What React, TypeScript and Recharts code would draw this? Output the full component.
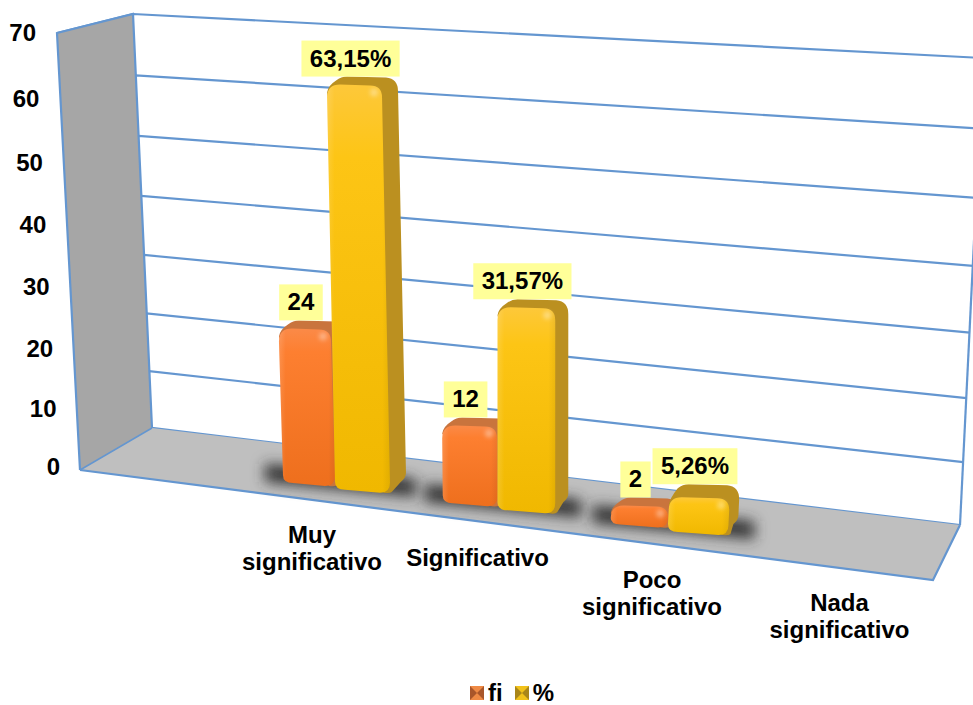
import React from 'react';
import { Bar, BarChart, CartesianGrid, Customized, LabelList, Legend, XAxis, YAxis } from 'recharts';

const categories = ['Muy significativo', 'Significativo', 'Poco significativo', 'Nada significativo'];
const fiValues = [24, 12, 2, null];
const pctValues = [63.15, 31.57, 5.26, null];
const valueTicks = [0, 10, 20, 30, 40, 50, 60, 70];

const data = categories.map((category, i) => ({ category, fi: fiValues[i], pct: pctValues[i] }));

const FONT = '"Liberation Sans", Arial, sans-serif';
const LINE = '#6496d0';
const MAX_VALUE = 70;
const PLOT_TOP = 52;
const PLOT_BOTTOM = 500;
const LEGEND_HEIGHT = 24;
const labelShift = [-23, -20, -16, -7];

// the chart is laid out flat, these bend it into the 3d view of the picture
const warpX = (x: number) => {
  const i = (x - 335) / 160;
  return 335 + 158.5 * i + 4 * i * i;
};
const baseAt = (cx: number) => 484 + 0.1256 * (cx - 309);
const curve = (y0: number, d: number, c: number, t: number) => y0 - (d * t + c * t * (t - 1));
const outerY = (t: number) => curve(470, 437, 18, t);
const innerY = (t: number) => curve(428, 414, 18, t);
const rightY = (t: number) => curve(525, 467, 32, t);
const outerX = (t: number) => 80 - 23 * t;
const innerX = (t: number) => 152 - 19 * t;
const rightX = (t: number) => 960 + 23 * t;

function barBox(props: any, inset: number) {
  const xl = warpX(props.x) + inset;
  const xr = warpX(props.x + props.width);
  const cx = (xl + xr) / 2;
  const base = baseAt(cx);
  const h = Math.max(props.height + 2, 20);
  const top = base - h;
  const lean = -(525 - cx) * 0.00012 * h;
  const side = 16 - (cx - 363) * 0.018;
  // short bars show more of their top face
  const depth = h > 25 && h < 40 ? 13 : 8;
  return { xl, xr, cx, base, top, lean, side, depth };
}

function makeBar(kind: 'fi' | 'pct') {
  const inset = kind === 'fi' ? 2 : 0;
  return function BarShape(props: any) {
    if (!props.height) return null;
    const { xl, xr, base, top, lean, side, depth } = barBox(props, inset);
    const tl = xl + lean;
    const tr = xr + lean;
    const back = top - depth;
    const silhouette = `M${tl} ${top + 8} Q${tl + 1} ${top + 1} ${tl + 9} ${back + 4} Q${tl + 14} ${back} ${tl + 20} ${back}
      L${tr + side - 12} ${back + 1} Q${tr + side} ${back + 2} ${tr + side} ${back + 15}
      L${xr + side} ${base - 18} Q${xr + side} ${base - 13} ${xr + side - 5} ${base - 9} L${xr + 2} ${base + 1} Q${xr} ${base + 3} ${xr - 6} ${base + 2} Z`;
    const front = `M${tl} ${top + 13} Q${tl} ${top} ${tl + 13} ${top} L${tr - 12} ${top + 1} Q${tr} ${top + 1} ${tr} ${top + 13}
      L${xr} ${base - 8} Q${xr} ${base + 2} ${xr - 10} ${base + 2} L${xl + 10} ${base - 1} Q${xl} ${base - 1} ${xl} ${base - 9} Z`;
    return (
      <g>
        <path d={silhouette} fill={kind === 'fi' ? '#c9743d' : '#bb9020'} />
        <path d={front} fill={`url(#${kind}Front)`} />
        <path d={front} fill="url(#barEdge)" />
        <ellipse cx={tr - 8} cy={top + 8} rx={4} ry={4} fill="#ffffff" opacity={0.35} filter="url(#softGlow)" />
      </g>
    );
  };
}

function FloorShadow(props: any) {
  if (!props.height) return null;
  const xl = warpX(props.x) - 16;
  const xr = warpX(props.x + props.width) + 26;
  const mid = baseAt((warpX(props.x) + warpX(props.x + props.width)) / 2);
  const y = (x: number) => mid + 0.1 * (x - (xl + xr) / 2);
  return (
    <polygon
      points={`${xl},${y(xl) - 16} ${xr},${y(xr) - 16} ${xr},${y(xr) + 2} ${xl},${y(xl) + 2}`}
      fill="#333333"
      filter="url(#floorBlur)"
    />
  );
}

function Walls() {
  return (
    <g>
      <polygon points="57,33 133,14 152,428 80,470" fill="#a6a6a6" />
      <polygon points="80,470 152,428 960,525 933,580" fill="#bfbfbf" />
      <polyline points="80,470 57,33 133,14 152,428" fill="none" stroke={LINE} strokeWidth={2.2} />
      <line x1={983} y1={58} x2={960} y2={525} stroke={LINE} strokeWidth={2.2} />
      <polyline points="80,470 933,580 960,525" fill="none" stroke={LINE} strokeWidth={2.2} />
      <line x1={80} y1={470} x2={152} y2={428} stroke={LINE} strokeWidth={1.5} />
    </g>
  );
}

function GridLine(props: any) {
  const t = (PLOT_BOTTOM - props.y1) / (PLOT_BOTTOM - PLOT_TOP);
  return (
    <polyline
      key={props.key}
      points={`${outerX(t)},${outerY(t)} ${innerX(t)},${innerY(t)} ${rightX(t)},${rightY(t)}`}
      fill="none"
      stroke={LINE}
      strokeWidth={2.2}
    />
  );
}

function ValueTick(props: any) {
  const t = props.payload.value / MAX_VALUE;
  const nudge = props.payload.value === 0 || props.payload.value === 70 ? 0 : 2;
  return (
    <text x={36 + (1 - t) * 24} y={outerY(t) + 8 - 3 * (1 - t) + nudge} textAnchor="end" fontFamily={FONT} fontWeight="bold" fontSize={24} fill="#000">
      {props.payload.value}
    </text>
  );
}

function CategoryTick(props: any) {
  const i = props.index;
  const words = props.payload.value.split(' ');
  const x = warpX(props.x) + labelShift[i];
  const y = 543 + i * 22.7;
  return (
    <text textAnchor="middle" fontFamily={FONT} fontWeight="bold" fontSize={24} fill="#000">
      {words.map((word: string, n: number) => (
        <tspan key={word} x={x} y={y + n * 27}>
          {word}
        </tspan>
      ))}
    </text>
  );
}

function makeLabel(format: (v: number) => string, inset: number) {
  return function BarLabel(props: any) {
    if (props.value == null) return null;
    const { cx, base, top, lean, depth } = barBox(props, inset);
    if (!base) return null;
    const text = format(props.value);
    let w = 17;
    for (const ch of text) w += ch === ',' ? 6.7 : ch === '%' ? 21.3 : 13.3;
    const mid = cx + lean - 4;
    const bottom = top - depth;
    return (
      <g>
        <rect x={mid - w / 2} y={bottom - 36} width={w} height={36} fill="#ffff99" />
        <text x={mid} y={bottom - 10} textAnchor="middle" fontFamily={FONT} fontWeight="bold" fontSize={24} fill="#000">
          {text}
        </text>
      </g>
    );
  };
}

function LegendIcon({ light, dark }: { light: string; dark: string }) {
  return (
    <svg width={14} height={14} style={{ display: 'block' }}>
      <rect width={14} height={14} fill={light} />
      <polygon points="0,0 7,7 0,14" fill={dark} />
      <polygon points="14,0 7,7 14,14" fill={dark} />
    </svg>
  );
}

function ChartLegend(props: any) {
  const items = (props.payload || []).filter((item: any) => item.type !== 'none');
  return (
    <div style={{ display: 'flex', alignItems: 'center', fontFamily: FONT, fontWeight: 'bold', fontSize: 24, lineHeight: '24px', color: '#000' }}>
      {items.map((item: any, i: number) => (
        <div key={item.value} style={{ display: 'flex', alignItems: 'center', marginRight: i === 0 ? 12 : 0 }}>
          <LegendIcon light={i === 0 ? '#ef8a45' : '#f2c21a'} dark={i === 0 ? '#a9562a' : '#a9861a'} />
          <span style={{ marginLeft: 4 }}>{item.value}</span>
        </div>
      ))}
    </div>
  );
}

export default function App() {
  return (
    <div style={{ position: 'absolute', left: 0, top: 0, width: 973, height: 705, overflow: 'hidden', background: '#fff' }}>
      <BarChart
        width={973}
        height={705}
        data={data}
        barSize={55}
        barGap={0}
        margin={{ top: PLOT_TOP, right: 78, bottom: 705 - PLOT_BOTTOM - 1 - LEGEND_HEIGHT, left: 254 }}
      >
        <defs>
          <linearGradient id="fiFront" x1="0" y1="0" x2="0" y2="1">
            <stop offset="0%" stopColor="#fb8a48" />
            <stop offset="15%" stopColor="#fd7f30" />
            <stop offset="100%" stopColor="#ee6f1d" />
          </linearGradient>
          <linearGradient id="pctFront" x1="0" y1="0" x2="0" y2="1">
            <stop offset="0%" stopColor="#fdc83a" />
            <stop offset="18%" stopColor="#fdc515" />
            <stop offset="100%" stopColor="#f0b800" />
          </linearGradient>
          <linearGradient id="barEdge" x1="0" y1="0" x2="1" y2="0">
            <stop offset="0%" stopColor="#fff" stopOpacity={0.14} />
            <stop offset="12%" stopColor="#fff" stopOpacity={0} />
            <stop offset="88%" stopColor="#000" stopOpacity={0} />
            <stop offset="100%" stopColor="#000" stopOpacity={0.06} />
          </linearGradient>
          <filter id="floorBlur" x="-30%" y="-150%" width="160%" height="400%">
            <feGaussianBlur stdDeviation="7" />
          </filter>
          <filter id="softGlow" x="-100%" y="-100%" width="300%" height="300%">
            <feGaussianBlur stdDeviation="2" />
          </filter>
        </defs>
        <Customized component={Walls} />
        <CartesianGrid vertical={false} horizontal={GridLine} />
        <XAxis dataKey="category" height={1} axisLine={false} tickLine={false} interval={0} tick={CategoryTick} />
        <XAxis xAxisId="floor" dataKey="category" hide />
        <YAxis domain={[0, MAX_VALUE]} ticks={valueTicks} width={1} axisLine={false} tickLine={false} tick={ValueTick} />
        <Legend
          content={ChartLegend}
          height={LEGEND_HEIGHT}
          itemSorter={null}
          wrapperStyle={{ position: 'absolute', left: 470, top: 681, width: 120, height: LEGEND_HEIGHT }}
        />
        <Bar xAxisId="floor" dataKey="fi" barSize={110} legendType="none" shape={FloorShadow} isAnimationActive={false} />
        <Bar dataKey="fi" name="fi" shape={makeBar('fi')} isAnimationActive={false}>
          <LabelList dataKey="fi" content={makeLabel((v) => String(v), 2)} />
        </Bar>
        <Bar dataKey="pct" name="%" shape={makeBar('pct')} isAnimationActive={false}>
          <LabelList dataKey="pct" content={makeLabel((v) => v.toFixed(2).replace('.', ',') + '%', 0)} />
        </Bar>
      </BarChart>
    </div>
  );
}
